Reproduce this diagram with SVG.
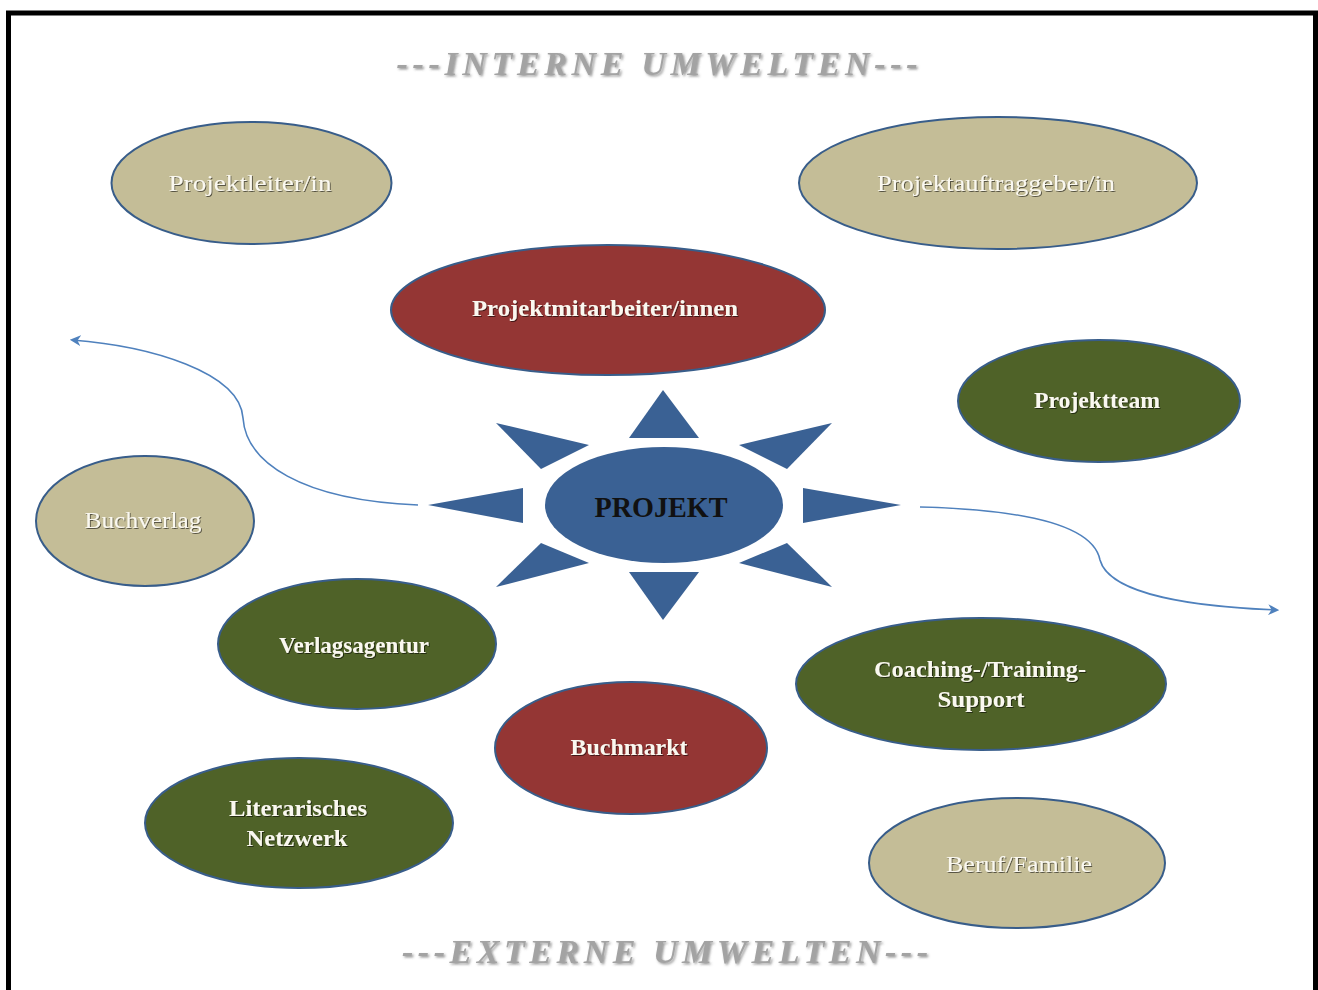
<svg xmlns="http://www.w3.org/2000/svg" width="1318" height="990" viewBox="0 0 1318 990">
  <style>
    .node { stroke: #385D8A; stroke-width: 2; }
    .tan { fill: #C4BD97; }
    .red { fill: #943634; }
    .green { fill: #4F6228; }
    .blue { fill: #3A6194; }
    .lbl { font-family: "Liberation Serif", "DejaVu Serif", serif; font-size: 24px; font-weight: bold; fill: #FAF8F0; text-anchor: middle; filter: url(#shadow); }
    .lbl-light { font-weight: normal; }
    .head { font-family: "Liberation Serif", "DejaVu Serif", serif; font-size: 34px; font-weight: bold; font-style: italic; fill: #A3A3A3; text-anchor: middle; filter: url(#headshadow); }
    .core { font-family: "Liberation Serif", "DejaVu Serif", serif; font-size: 29px; font-weight: bold; fill: #111; text-anchor: middle; }
    .flow { fill: none; stroke: #4F81BD; stroke-width: 1.6; }
  </style>
  <defs>
    <filter id="shadow" x="-10%" y="-30%" width="120%" height="160%">
      <feDropShadow dx="1" dy="1" stdDeviation="0.6" flood-color="#000" flood-opacity="0.55"/>
    </filter>
    <filter id="headshadow" x="-10%" y="-30%" width="120%" height="160%">
      <feDropShadow dx="1.5" dy="1.5" stdDeviation="0.8" flood-color="#555" flood-opacity="0.6"/>
    </filter>
    <marker id="arrow" viewBox="0 0 10 10" refX="8" refY="5" markerWidth="11" markerHeight="11" orient="auto-start-reverse" markerUnits="userSpaceOnUse">
      <path d="M0,0 L10,5 L0,10 L3,5 Z" fill="#4F81BD"/>
    </marker>
  </defs>

  <rect width="1318" height="990" fill="#FFFFFF"/>
  <!-- page frame -->
  <rect x="8.5" y="13" width="1307" height="1000" fill="none" stroke="#000" stroke-width="5"/>

  <!-- headings -->
  <text class="head" x="657" y="75" textLength="521" lengthAdjust="spacing">---INTERNE UMWELTEN---</text>
  <text class="head" x="665" y="963" textLength="526" lengthAdjust="spacing">---EXTERNE UMWELTEN---</text>

  <!-- connectors -->
  <g id="connectors">
    <path class="flow" d="M418,505 C300,500 246,462 243,418 C240,372 150,346 72,340" marker-end="url(#arrow)"/>
    <path class="flow" d="M920,507 C1040,510 1094,530 1100,560 C1110,596 1200,607 1277,610" marker-end="url(#arrow)"/>
  </g>

  <!-- central star -->
  <g id="projekt">
    <polygon class="blue" points="663,390 699,438 629,438"/>
    <polygon class="blue" points="629,572 699,572 663,620"/>
    <polygon class="blue" points="428,505 523,488 523,523"/>
    <polygon class="blue" points="901,505 803,488 803,523"/>
    <polygon class="blue" points="496,423 589,445 541,469"/>
    <polygon class="blue" points="832,423 739,445 787,469"/>
    <polygon class="blue" points="496,587 589,563 541,543"/>
    <polygon class="blue" points="832,587 739,563 787,543"/>
    <ellipse class="blue" cx="664" cy="505" rx="119" ry="58"/>
    <text class="core" x="661" y="517" textLength="133" lengthAdjust="spacingAndGlyphs">PROJEKT</text>
  </g>

  <g id="projektleiter">
    <ellipse class="node tan" cx="251.5" cy="183" rx="140" ry="61"/>
    <text class="lbl lbl-light" x="250" y="191" textLength="163" lengthAdjust="spacingAndGlyphs">Projektleiter/in</text>
  </g>

  <g id="projektauftraggeber">
    <ellipse class="node tan" cx="998" cy="183" rx="199" ry="66"/>
    <text class="lbl lbl-light" x="996" y="191" textLength="238" lengthAdjust="spacingAndGlyphs">Projektauftraggeber/in</text>
  </g>

  <g id="projektmitarbeiter">
    <ellipse class="node red" cx="608" cy="310" rx="217" ry="65"/>
    <text class="lbl" x="605" y="316" textLength="266" lengthAdjust="spacingAndGlyphs">Projektmitarbeiter/innen</text>
  </g>

  <g id="projektteam">
    <ellipse class="node green" cx="1099" cy="401" rx="141" ry="61"/>
    <text class="lbl" x="1097" y="408" textLength="126" lengthAdjust="spacingAndGlyphs">Projektteam</text>
  </g>

  <g id="buchverlag">
    <ellipse class="node tan" cx="145" cy="521" rx="109" ry="65"/>
    <text class="lbl lbl-light" x="143" y="528" textLength="117" lengthAdjust="spacingAndGlyphs">Buchverlag</text>
  </g>

  <g id="verlagsagentur">
    <ellipse class="node green" cx="357" cy="644" rx="139" ry="65"/>
    <text class="lbl" x="354" y="653" textLength="150" lengthAdjust="spacingAndGlyphs">Verlagsagentur</text>
  </g>

  <g id="coaching">
    <ellipse class="node green" cx="981" cy="684" rx="185" ry="66"/>
    <text class="lbl" x="980" y="677" textLength="212" lengthAdjust="spacingAndGlyphs">Coaching-/Training-</text>
    <text class="lbl" x="981" y="707" textLength="87" lengthAdjust="spacingAndGlyphs">Support</text>
  </g>

  <g id="buchmarkt">
    <ellipse class="node red" cx="631" cy="748" rx="136" ry="66"/>
    <text class="lbl" x="629" y="755" textLength="117" lengthAdjust="spacingAndGlyphs">Buchmarkt</text>
  </g>

  <g id="netzwerk">
    <ellipse class="node green" cx="299" cy="823" rx="154" ry="65"/>
    <text class="lbl" x="298" y="816" textLength="138" lengthAdjust="spacingAndGlyphs">Literarisches</text>
    <text class="lbl" x="297" y="846" textLength="101" lengthAdjust="spacingAndGlyphs">Netzwerk</text>
  </g>

  <g id="beruf">
    <ellipse class="node tan" cx="1017" cy="863" rx="148" ry="65"/>
    <text class="lbl lbl-light" x="1019" y="872" textLength="146" lengthAdjust="spacingAndGlyphs">Beruf/Familie</text>
  </g>
</svg>
